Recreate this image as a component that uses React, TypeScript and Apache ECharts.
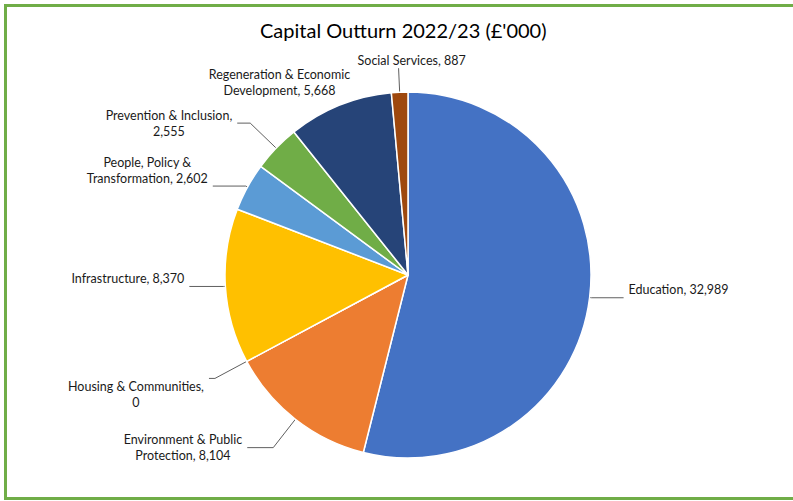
import React, { useEffect, useRef } from "react";
import * as echarts from "echarts";

const titleText = "Capital Outturn 2022/23 (£'000)";

const categories: string[] = [
  "Education",
  "Environment & Public Protection",
  "Housing & Communities",
  "Infrastructure",
  "People, Policy & Transformation",
  "Prevention & Inclusion",
  "Regeneration & Economic Development",
  "Social Services",
];

const values: number[] = [32989, 8104, 0, 8370, 2602, 2555, 5668, 887];

const colors: string[] = [
  "#4472C4",
  "#ED7D31",
  "#A5A5A5",
  "#FFC000",
  "#5B9BD5",
  "#70AD47",
  "#264478",
  "#9E480E",
];

// number of words on the first label line (0 = single line)
const firstLineWords: number[] = [0, 3, 3, 0, 3, 3, 3, 0];

// label placement styling (leader line lengths and anchoring)
const lineLen: number[] = [2, 36, 36, 2, 2, 36, 25, 24];
const lineLen2: number[] = [32, 26, 6, 34, 33, 13, 46, 36];
const labelAlign: (string | null)[] = [null, null, null, null, null, null, "center", "left"];
const labelVAlign: string[] = ["bottom", "middle", "top", "bottom", "bottom", "middle", "middle", "bottom"];
const showLine: boolean[] = [true, true, true, true, true, true, false, true];
const shortLine: boolean[] = [false, false, false, false, false, false, false, true];

const FONT = "Lato, 'Open Sans', sans-serif";

function fmt(v: number): string {
  return v.toLocaleString("en-GB");
}

function labelFor(i: number): string {
  const full = `${categories[i]}, ${fmt(values[i])}`;
  const n = firstLineWords[i];
  if (!n) return `{c|${full}}`;
  const words = full.split(" ");
  return `{c|${words.slice(0, n).join(" ")}}\n{c|${words.slice(n).join(" ")}}`;
}

export default function App() {
  const ref = useRef<HTMLDivElement>(null);

  useEffect(() => {
    if (!ref.current) return;
    const chart = echarts.init(ref.current, undefined, { renderer: "svg" });
    const data = categories.map((name, i) => ({
      name,
      value: values[i],
      itemStyle: { color: colors[i] },
      label: { formatter: () => labelFor(i) },
      labelLine: { show: showLine[i], length: lineLen[i], length2: lineLen2[i] },
    }));
    chart.setOption({
      animation: false,
      backgroundColor: "transparent",
      title: {
        text: titleText,
        left: 255,
        top: 15,
        textStyle: {
          fontFamily: FONT,
          fontSize: 20,
          fontWeight: "normal",
          color: "#000000",
        },
      },
      series: [
        {
          type: "pie",
          center: [408, 275],
          radius: 183,
          startAngle: 90,
          clockwise: true,
          avoidLabelOverlap: false,
          itemStyle: { borderColor: "#ffffff", borderWidth: 1.5 },
          label: {
            show: true,
            position: "outside",
            distanceToLabelLine: 5,
            color: "#1a1a1a",
            fontFamily: FONT,
            fontSize: 12.5,
            lineHeight: 16,
            rich: {
              c: {
                align: "center",
                color: "#1a1a1a",
                fontFamily: FONT,
                fontSize: 12.5,
                lineHeight: 16,
              },
            },
          },
          labelLine: {
            show: true,
            smooth: false,
            lineStyle: { color: "#5f5f5f", width: 1 },
          },
          labelLayout: (params: any) => {
            const i = params.dataIndex;
            const out: any = { verticalAlign: labelVAlign[i] };
            if (labelAlign[i]) out.align = labelAlign[i];
            if (shortLine[i] && params.labelLinePoints) {
              out.labelLinePoints = params.labelLinePoints.slice(0, 2);
            }
            return out;
          },
          emphasis: { disabled: true },
          data,
        },
      ],
    });
    return () => chart.dispose();
  }, []);

  return (
    <div
      style={{
        position: "fixed",
        left: 0,
        top: 0,
        width: 793,
        height: 501,
        overflow: "hidden",
        background: "#ffffff",
      }}
    >
      <div
        style={{
          position: "absolute",
          left: 4,
          top: 4,
          width: 820,
          height: 490,
          border: "3px solid #70AD47",
        }}
      />
      <div
        ref={ref}
        style={{ position: "absolute", left: 0, top: 0, width: 793, height: 501 }}
      />
    </div>
  );
}
